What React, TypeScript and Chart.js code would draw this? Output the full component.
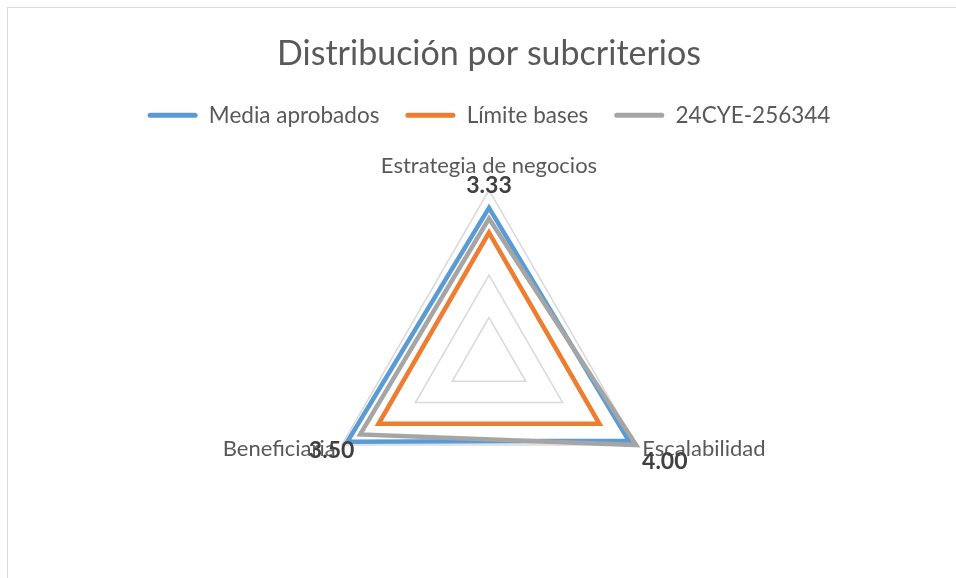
import React, { useEffect, useRef } from "react";
import { Chart, registerables } from "chart.js";

Chart.register(...registerables);

const categories = ["Estrategia de negocios", "Escalabilidad", "Beneficiaria"];
const seriesNames = ["Media aprobados", "Límite bases", "24CYE-256344"];
const mediaAprobados = [3.58, 3.8, 3.85];
const limiteBases = [3.0, 3.0, 3.0];
const proyecto = [3.33, 4.0, 3.5];
const seriesColors = ["#5B9BD5", "#ED7D31", "#A5A5A5"];
const axisMin = 0;
const axisMax = 4;
const axisStep = 1;

const FONT = "Lato, 'Open Sans', sans-serif";

const radarLabels = {
  id: "radarLabels",
  afterDatasetsDraw(chart: any) {
    const scale = chart.scales.r;
    const ctx = chart.ctx;
    ctx.save();
    ctx.font = `22px ${FONT}`;
    ctx.fillStyle = "#595959";
    ctx.textBaseline = "middle";
    categories.forEach((c, i) => {
      const d = scale.drawingArea + (i === 0 ? 24 : 7);
      const p = scale.getPointPosition(i, d);
      ctx.textAlign = i === 0 ? "center" : i === 1 ? "left" : "right";
      ctx.fillText(c, p.x, p.y);
    });
    ctx.font = `bold 23px ${FONT}`;
    ctx.fillStyle = "#404040";
    ctx.textAlign = "center";
    proyecto.forEach((v, i) => {
      const p = scale.getPointPosition(i, scale.getDistanceFromCenterForValue(v) + 33);
      ctx.fillText(v.toFixed(2), p.x, p.y);
    });
    ctx.restore();
  },
};

export default function App() {
  const ref = useRef<HTMLCanvasElement | null>(null);

  useEffect(() => {
    if (!ref.current) return;
    const values = [mediaAprobados, limiteBases, proyecto];
    const chart = new Chart(ref.current, {
      type: "radar",
      data: {
        labels: categories,
        datasets: seriesNames.map((name, i) => ({
          label: name,
          data: values[i],
          borderColor: seriesColors[i],
          backgroundColor: "transparent",
          borderWidth: 4.5,
          borderJoinStyle: "miter" as const,
          fill: false,
          pointRadius: 0,
          pointHoverRadius: 0,
          tension: 0,
          order: 2 - i,
        })),
      },
      options: {
        animation: false,
        responsive: true,
        maintainAspectRatio: false,
        events: [],
        layout: { padding: { top: 0, left: 14, right: 0, bottom: 48 } },
        scales: {
          r: {
            min: axisMin,
            max: axisMax,
            ticks: { display: false, stepSize: axisStep },
            grid: { color: "#d9d9d9", lineWidth: 1.5 },
            angleLines: { display: false },
            pointLabels: { display: false },
          },
        },
        plugins: {
          title: {
            display: true,
            text: "Distribución por subcriterios",
            color: "#595959",
            font: { family: FONT, size: 34, weight: "normal", lineHeight: 1 },
            padding: { top: 29, bottom: 7 },
          },
          legend: {
            display: true,
            position: "top",
            labels: {
              color: "#595959",
              font: { family: FONT, size: 22.5 },
              boxWidth: 50,
              boxHeight: 5,
              padding: 26,
              useBorderRadius: true,
              generateLabels: (c: any) => {
                const items = (Chart.defaults.plugins.legend.labels as any).generateLabels(c);
                return items
                  .map((it: any) => ({ ...it, fillStyle: it.strokeStyle, lineWidth: 0, borderRadius: 2.5 }))
                  .sort((a: any, b: any) => a.datasetIndex - b.datasetIndex);
              },
            },
          },
          subtitle: {
            display: true,
            text: "",
            weight: 500,
            font: { size: 10, lineHeight: 1 },
            padding: { top: 43.5, bottom: 0 },
          } as any,
          tooltip: { enabled: false },
        },
      },
      plugins: [radarLabels],
    });
    return () => chart.destroy();
  }, []);

  return (
    <div
      style={{
        position: "absolute",
        left: 7,
        top: 7,
        width: 949,
        height: 571,
        boxSizing: "border-box",
        borderTop: "1px solid #d9d9d9",
        borderLeft: "1px solid #d9d9d9",
        background: "#fff",
        overflow: "hidden",
      }}
    >
      <div style={{ position: "relative", width: 948, height: 570 }}>
        <canvas ref={ref} />
      </div>
    </div>
  );
}
